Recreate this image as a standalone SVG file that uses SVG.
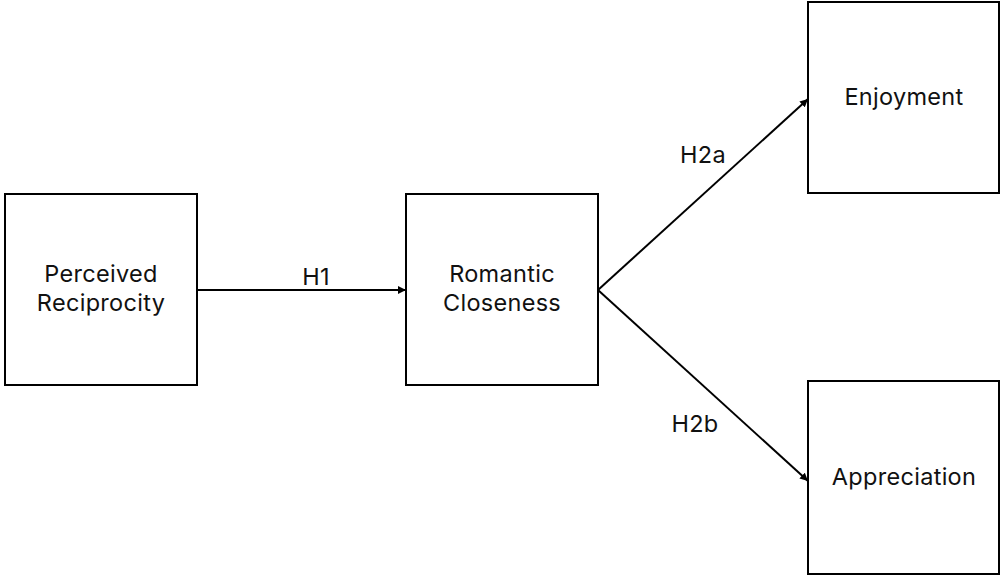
<svg xmlns="http://www.w3.org/2000/svg" width="1000" height="576" viewBox="0 0 1000 576">
<style>
.box{fill:#fff;stroke:#000;stroke-width:2}
.t{font-family:Inter,"Liberation Sans",sans-serif;font-size:23.5px;letter-spacing:0.3px;fill:#111;text-anchor:middle}
.edge{stroke:#000;stroke-width:2;fill:none;marker-end:url(#ah)}
</style>
<defs>
<marker id="ah" viewBox="0 0 10 10" refX="10" refY="5" markerWidth="4" markerHeight="4" orient="auto" markerUnits="strokeWidth">
<path d="M0,0 L10,5 L0,10 z" fill="#000"/>
</marker>
</defs>
<rect width="1000" height="576" fill="#fff"/>
<g id="connectors">
<line class="edge" x1="197" y1="290" x2="406" y2="290"/>
<line class="edge" x1="598" y1="290" x2="808" y2="99"/>
<line class="edge" x1="598" y1="290" x2="808" y2="481"/>
<text class="t" x="316" y="285">H1</text>
<text class="t" x="703" y="163">H2a</text>
<text class="t" x="695" y="432">H2b</text>
</g>
<g id="perceived-reciprocity">
<rect class="box" x="5" y="194" width="192" height="191"/>
<text class="t" x="101" y="282">Perceived</text>
<text class="t" x="101" y="311">Reciprocity</text>
</g>
<g id="romantic-closeness">
<rect class="box" x="406" y="194" width="192" height="191"/>
<text class="t" x="502" y="282">Romantic</text>
<text class="t" x="502" y="311">Closeness</text>
</g>
<g id="enjoyment">
<rect class="box" x="808" y="2" width="191" height="191"/>
<text class="t" x="904" y="105">Enjoyment</text>
</g>
<g id="appreciation">
<rect class="box" x="808" y="381" width="191" height="193"/>
<text class="t" x="904" y="485">Appreciation</text>
</g>
</svg>
